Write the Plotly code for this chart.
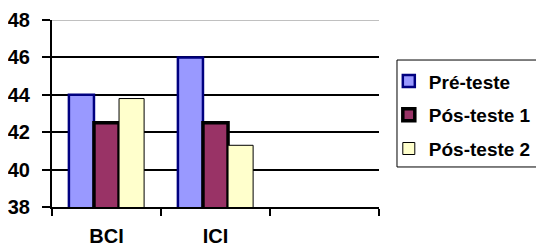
import plotly.graph_objects as go

categories = ["BCI", "ICI"]
axis_categories = ["BCI", "ICI", " "]
series_names = ["Pré-teste", "Pós-teste 1", "Pós-teste 2"]
pre_teste = [44.0, 46.0]
pos_teste_1 = [42.5, 42.5]
pos_teste_2 = [43.8, 41.3]
y_ticks = [38, 40, 42, 44, 46, 48]

colors = ["#9999FF", "#993366", "#FFFFCC"]
line_colors = ["#000080", "#000000", "#000000"]
line_widths = [2.5, 3.5, 1]

font_family = "Liberation Sans, Arial, sans-serif"

fig = go.Figure()
for i, (name, vals) in enumerate(zip(series_names, [pre_teste, pos_teste_1, pos_teste_2])):
    fig.add_trace(go.Bar(
        x=categories, y=vals, name=name, legendgroup=name,
        marker=dict(color=colors[i], line=dict(color=line_colors[i], width=line_widths[i])),
    ))

fig.update_layout(
    width=536, height=237,
    margin=dict(l=44, r=165, t=12, b=38, autoexpand=False),
    paper_bgcolor="white", plot_bgcolor="white",
    barmode="group", bargap=0.31, bargroupgap=0,
    font=dict(family=font_family, size=20, color="black", weight="bold"),
    showlegend=True,
    legend=dict(
        x=1.03, y=0.774, xanchor="left", yanchor="top",
        font=dict(family=font_family, size=19, color="black", weight="bold"),
        bgcolor="rgba(0,0,0,0)", borderwidth=0,
        tracegroupgap=6, traceorder="grouped",
    ),
    xaxis=dict(
        type="category", categoryorder="array", categoryarray=axis_categories,
        range=[-0.5, 2.5], tickson="boundaries", ticks="outside", ticklen=7,
        tickwidth=2, tickcolor="black", showline=True, linecolor="black",
        linewidth=2, showgrid=False, ticklabelstandoff=10, automargin=False,
        tickfont=dict(size=20),
    ),
    yaxis=dict(
        range=[38, 48], tickvals=y_ticks, ticks="outside", ticklen=8,
        tickwidth=2, tickcolor="black", showline=True, linecolor="black",
        linewidth=2, showgrid=True, gridcolor="black", gridwidth=1.5,
        zeroline=False, ticklabelstandoff=8, automargin=False,
        tickfont=dict(size=20),
    ),
    shapes=[
        dict(type="line", xref="paper", yref="y", x0=0, x1=1, y0=48, y1=48,
             line=dict(color="#C0C0C0", width=2), layer="above"),
        dict(type="rect", xref="paper", yref="paper", x0=1.055, x1=1.505,
             y0=0.214, y1=0.786, line=dict(color="black", width=1)),
    ],
)

fig.write_html("out.html")
